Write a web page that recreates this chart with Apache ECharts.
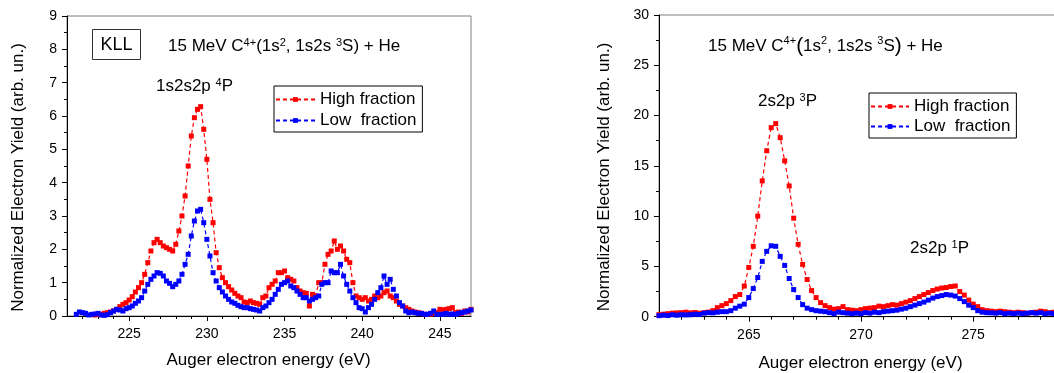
<!DOCTYPE html>
<html>
<head>
<meta charset="utf-8">
<script src="https://cdn.jsdelivr.net/npm/echarts@6/dist/echarts.min.js"></script>
<style>html,body{margin:0;padding:0;background:#fff}#c{width:1054px;height:373px}</style>
</head>
<body>
<div id="c"></div>
<script>
// ---------- Left panel (KLL) ----------
var energyL = [
  221.6, 221.8,
  222.0, 222.2, 222.4, 222.6, 222.8,
  223.0, 223.2, 223.4, 223.6, 223.8,
  224.0, 224.2, 224.4, 224.6, 224.8,
  225.0, 225.2, 225.4, 225.6, 225.8,
  226.0, 226.2, 226.4, 226.6, 226.8,
  227.0, 227.2, 227.4, 227.6, 227.8,
  228.0, 228.2, 228.4, 228.6, 228.8,
  229.0, 229.2, 229.4, 229.6, 229.8,
  230.0, 230.2, 230.4, 230.6, 230.8,
  231.0, 231.2, 231.4, 231.6, 231.8,
  232.0, 232.2, 232.4, 232.6, 232.8,
  233.0, 233.2, 233.4, 233.6, 233.8,
  234.0, 234.2, 234.4, 234.6, 234.8,
  235.0, 235.2, 235.4, 235.6, 235.8,
  236.0, 236.2, 236.4, 236.6, 236.8,
  237.0, 237.2, 237.4, 237.6, 237.8,
  238.0, 238.2, 238.4, 238.6, 238.8,
  239.0, 239.2, 239.4, 239.6, 239.8,
  240.0, 240.2, 240.4, 240.6, 240.8,
  241.0, 241.2, 241.4, 241.6, 241.8,
  242.0, 242.2, 242.4, 242.6, 242.8,
  243.0, 243.2, 243.4, 243.6, 243.8,
  244.0, 244.2, 244.4, 244.6, 244.8,
  245.0, 245.2, 245.4, 245.6, 245.8,
  246.0, 246.2, 246.4, 246.6, 246.8,
  247.0
];
var highL = [
  null, null,
  null, null, null, null, 0.03,
  0.05, 0.05, 0.08, 0.10, 0.12,
  0.15, 0.20, 0.28, 0.35, 0.40,
  0.48, 0.58, 0.72, 0.85, 1.00,
  1.25, 1.60, 1.95, 2.20, 2.30,
  2.20, 2.10, 2.05, 2.00, 1.95,
  2.15, 2.55, 3.00, 3.60, 4.50,
  5.40, 5.95, 6.20, 6.28, 5.60,
  4.70, 3.50, 2.80, 1.90, 1.45,
  1.15, 1.00, 0.88, 0.78, 0.68,
  0.60, 0.55, 0.42, 0.40, 0.45,
  0.40, 0.38, 0.35, 0.55, 0.60,
  0.85, 0.95, 1.05, 1.30, 1.30,
  1.35, 1.15, 1.10, 1.05, 0.85,
  0.75, 0.70, 0.68, 0.30, 0.65,
  0.60, 1.00, 1.00, 1.55, 1.85,
  1.95, 2.25, 2.00, 2.10, 1.95,
  1.70, 1.60, 1.00, 0.60, 0.55,
  0.50, 0.55, 0.45, 0.50, 0.60,
  0.55, 0.60, 0.70, 0.75, 0.60,
  0.55, 0.45, 0.35, 0.30, 0.25,
  0.20, 0.15, 0.12, 0.10, 0.08,
  0.05, 0.05, 0.05, 0.08, 0.10,
  0.20, 0.18, 0.20, 0.22, 0.25,
  0.10, 0.12, 0.08, 0.15, 0.12,
  0.20
];
var lowL = [
  0.05, 0.12,
  0.10, 0.08, 0.03, 0.05, 0.06,
  0.08, 0.03, 0.02, 0.04, 0.10,
  0.15, 0.20, 0.18, 0.15, 0.22,
  0.25, 0.30, 0.38, 0.45, 0.55,
  0.75, 0.95, 1.10, 1.20, 1.30,
  1.28, 1.20, 1.05, 0.98, 0.88,
  0.95, 1.05, 1.25, 1.55, 1.85,
  2.40, 2.85, 3.15, 3.20, 2.80,
  2.30, 1.80, 1.30, 1.05, 0.85,
  0.72, 0.60, 0.50, 0.42, 0.38,
  0.32, 0.28, 0.25, 0.25, 0.22,
  0.20, 0.18, 0.15, 0.25, 0.30,
  0.40, 0.50, 0.65, 0.80, 0.95,
  1.00, 1.05, 0.90, 0.85, 0.75,
  0.65, 0.55, 0.55, 0.45, 0.50,
  0.55, 0.60, 0.95, 1.00, 1.00,
  1.35, 1.30, 1.30, 1.55, 1.20,
  0.95, 0.75, 0.55, 0.40, 0.25,
  0.22, 0.12, 0.25, 0.35, 0.50,
  0.70, 0.85, 1.20, 0.95, 1.10,
  0.80, 0.60, 0.40, 0.30, 0.15,
  0.10, 0.12, 0.10, 0.08, 0.08,
  0.05, 0.05, 0.08, 0.15, 0.05,
  0.05, 0.05, 0.08, 0.05, 0.06,
  0.05, 0.08, 0.10, 0.12, 0.15,
  0.18
];
var majorTicksL = [225, 230, 235, 240, 245];
var minorTicksL = [222, 223, 224, 225, 226, 227, 228, 229, 230, 231, 232, 233, 234, 235, 236, 237, 238, 239, 240, 241, 242, 243, 244, 245, 246];

// ---------- Right panel ----------
var energyR = [
  261.0, 261.2, 261.4, 261.6, 261.8,
  262.0, 262.2, 262.4, 262.6, 262.8,
  263.0, 263.2, 263.4, 263.6, 263.8,
  264.0, 264.2, 264.4, 264.6, 264.8,
  265.0, 265.2, 265.4, 265.6, 265.8,
  266.0, 266.2, 266.4, 266.6, 266.8,
  267.0, 267.2, 267.4, 267.6, 267.8,
  268.0, 268.2, 268.4, 268.6, 268.8,
  269.0, 269.2, 269.4, 269.6, 269.8,
  270.0, 270.2, 270.4, 270.6, 270.8,
  271.0, 271.2, 271.4, 271.6, 271.8,
  272.0, 272.2, 272.4, 272.6, 272.8,
  273.0, 273.2, 273.4, 273.6, 273.8,
  274.0, 274.2, 274.4, 274.6, 274.8,
  275.0, 275.2, 275.4, 275.6, 275.8,
  276.0, 276.2, 276.4, 276.6, 276.8,
  277.0, 277.2, 277.4, 277.6, 277.8,
  278.0, 278.2, 278.4, 278.6, 278.8,
  279.0
];
var highR = [
  0.20, 0.25, 0.30, 0.35, 0.38,
  0.40, 0.45, 0.38, 0.42, 0.35,
  0.40, 0.46, 0.60, 0.90, 1.10,
  1.30, 1.60, 2.00, 2.20, 3.05,
  4.90, 7.00, 10.0, 13.5, 16.5,
  18.8, 19.2, 17.8, 15.5, 13.0,
  9.80, 7.20, 5.20, 3.70, 2.60,
  1.90, 1.40, 1.10, 0.90, 0.75,
  0.80, 1.00, 0.70, 0.65, 0.60,
  0.70, 0.80, 0.85, 0.90, 1.05,
  1.00, 1.10, 1.20, 1.15, 1.30,
  1.45, 1.60, 1.80, 2.00, 2.20,
  2.40, 2.60, 2.75, 2.85, 2.90,
  3.00, 3.05, 2.50, 2.15, 1.65,
  1.25, 1.00, 0.70, 0.60, 0.55,
  0.50, 0.55, 0.50, 0.45, 0.40,
  0.45, 0.40, 0.35, 0.40, 0.45,
  0.55, 0.50, 0.40, 0.45, 0.40,
  0.40
];
var lowR = [
  0.10, 0.15, 0.12, 0.20, 0.15,
  0.20, 0.18, 0.20, 0.25, 0.22,
  0.35, 0.40, 0.38, 0.45, 0.50,
  0.50, 0.60, 0.85, 1.05, 1.25,
  1.90, 2.80, 3.90, 5.50, 6.50,
  7.05, 7.00, 6.00, 5.10, 3.80,
  2.70, 1.90, 1.20, 0.85, 0.70,
  0.60, 0.55, 0.50, 0.40, 0.30,
  0.45, 0.40, 0.35, 0.30, 0.35,
  0.30, 0.40, 0.35, 0.45, 0.40,
  0.50, 0.55, 0.60, 0.65, 0.75,
  0.85, 1.00, 1.15, 1.30, 1.45,
  1.65, 1.85, 2.00, 2.10, 2.20,
  2.15, 2.05, 1.80, 1.50, 1.15,
  0.90, 0.60, 0.45, 0.40, 0.38,
  0.35, 0.40, 0.30, 0.35, 0.30,
  0.35, 0.30, 0.35, 0.40, 0.35,
  0.40, 0.30, 0.35, 0.30, 0.35,
  0.30
];
var majorTicksR = [265, 270, 275];
var minorTicksR = [262, 263, 264, 265, 266, 267, 268, 269, 270, 271, 272, 273, 274, 275, 276, 277, 278];

var seriesNames = ['High fraction', 'Low  fraction'];
var seriesColors = ['#ff0000', '#0000ff'];

var FONT = "'Liberation Sans', Arial, Helvetica, sans-serif";

function pairs(xs, ys) {
  var out = [];
  for (var i = 0; i < xs.length; i++) {
    if (ys[i] !== null) out.push([xs[i], ys[i]]);
  }
  return out;
}

function mkSeries(name, color, xIdx, yIdx, data) {
  return {
    name: name, type: 'line', xAxisIndex: xIdx, yAxisIndex: yIdx,
    data: data, symbol: 'rect', symbolSize: 5, showSymbol: true,
    color: color,
    itemStyle: { color: color },
    lineStyle: { color: color, width: 1.2, type: [4, 3] },
    animation: false, clip: true
  };
}

function majorX(grid, min, max, ticks) {
  return {
    gridIndex: grid, type: 'value', min: min, max: max, position: 'bottom',
    axisLine: { show: true, onZero: false, lineStyle: { color: '#000', width: 1 } },
    axisTick: { show: true, inside: false, length: 5, customValues: ticks, lineStyle: { color: '#000' } },
    axisLabel: { show: true, customValues: ticks, fontSize: 14, color: '#000', margin: 11, fontFamily: FONT },
    splitLine: { show: false }
  };
}
function minorX(grid, min, max, ticks) {
  return {
    gridIndex: grid, type: 'value', min: min, max: max, position: 'bottom',
    axisLine: { show: false },
    axisTick: { show: true, inside: false, length: 3, customValues: ticks, lineStyle: { color: '#000' } },
    axisLabel: { show: false },
    splitLine: { show: false }
  };
}
function yAx(grid, max, interval) {
  return {
    gridIndex: grid, type: 'value', min: 0, max: max, interval: interval,
    axisLine: { show: true, onZero: false, lineStyle: { color: '#000', width: 1 } },
    axisTick: { show: true, length: 5, lineStyle: { color: '#000' } },
    minorTick: { show: true, splitNumber: 2, length: 3, lineStyle: { color: '#000' } },
    axisLabel: { fontSize: 14, color: '#000', margin: 10, fontFamily: FONT },
    splitLine: { show: false }, minorSplitLine: { show: false }
  };
}

function legendAt(left, top, itemWidth, gap, padding) {
  return {
    show: true, orient: 'vertical', left: left, top: top,
    itemWidth: itemWidth, itemHeight: 6, itemGap: gap,
    padding: padding, borderColor: '#000', borderWidth: 1, borderRadius: 0,
    backgroundColor: '#fff', selectedMode: false,
    textStyle: { fontSize: 17, color: '#000', fontFamily: FONT },
    data: seriesNames
  };
}

var supRich = {
  sup: { fontSize: 11, fontFamily: FONT, fill: '#000', verticalAlign: 'top', padding: [0, 0, 6, 0] },
  par: { fontSize: 21, fontFamily: FONT, fill: '#000' }
};
function txt(x, y, text, size, rot, align) {
  return {
    type: 'text', x: x, y: y, rotation: rot || 0, z: 100,
    style: {
      text: text, fontSize: size, fontFamily: FONT, fill: '#000',
      align: align || 'left', verticalAlign: 'middle', rich: supRich
    }
  };
}

var chart = echarts.init(document.getElementById('c'), null, { renderer: 'canvas' });
chart.setOption({
  backgroundColor: '#fff',
  animation: false,
  grid: [
    { left: 67, top: 16, width: 404, height: 300, show: true, borderColor: '#808080', borderWidth: 1, backgroundColor: 'transparent', containLabel: false, outerBoundsMode: 'none' },
    { left: 659, top: 15, width: 404, height: 301.7, show: true, borderColor: '#808080', borderWidth: 1, backgroundColor: 'transparent', containLabel: false, outerBoundsMode: 'none' }
  ],
  xAxis: [
    majorX(0, 221, 247, majorTicksL),
    minorX(0, 221, 247, minorTicksL),
    majorX(1, 261, 279, majorTicksR),
    minorX(1, 261, 279, minorTicksR)
  ],
  yAxis: [
    yAx(0, 9, 1),
    yAx(1, 30, 5)
  ],
  legend: [
    legendAt(274, 86, 39, 4, [5, 6, 3, 1]),
    legendAt(869, 93, 38, 3, [5, 6, 3, 1])
  ],
  series: [
    mkSeries(seriesNames[0], seriesColors[0], 0, 0, pairs(energyL, highL)),
    mkSeries(seriesNames[1], seriesColors[1], 0, 0, pairs(energyL, lowL)),
    mkSeries(seriesNames[0], seriesColors[0], 2, 1, pairs(energyR, highR)),
    mkSeries(seriesNames[1], seriesColors[1], 2, 1, pairs(energyR, lowR))
  ],
  graphic: [
    { type: 'rect', shape: { x: 92.5, y: 29.5, width: 48, height: 30 }, style: { fill: '#fff', stroke: '#333', lineWidth: 1 }, z: 99 },
    txt(116.5, 45, 'KLL', 18, 0, 'center'),
    txt(168, 46, '15 MeV C{sup|4+}(1s{sup|2}, 1s2s {sup|3}S) + He', 17),
    txt(156, 86, '1s2s2p {sup|4}P', 17),
    txt(708, 46, '15 MeV C{sup|4+}{par|(}1s{sup|2}, 1s2s {sup|3}S{par|)} + He', 17),
    txt(758, 101, '2s2p {sup|3}P', 17),
    txt(910, 248, '2s2p {sup|1}P', 17),
    txt(268.5, 360, 'Auger electron energy (eV)', 17, 0, 'center'),
    txt(860.5, 363, 'Auger electron energy (eV)', 17, 0, 'center'),
    txt(18, 177.5, 'Normalized Electron Yield (arb. un.)', 17, Math.PI / 2, 'center'),
    txt(604, 177, 'Normalized Electron Yield (arb. un.)', 17, Math.PI / 2, 'center')
  ]
});
</script>
</body>
</html>
